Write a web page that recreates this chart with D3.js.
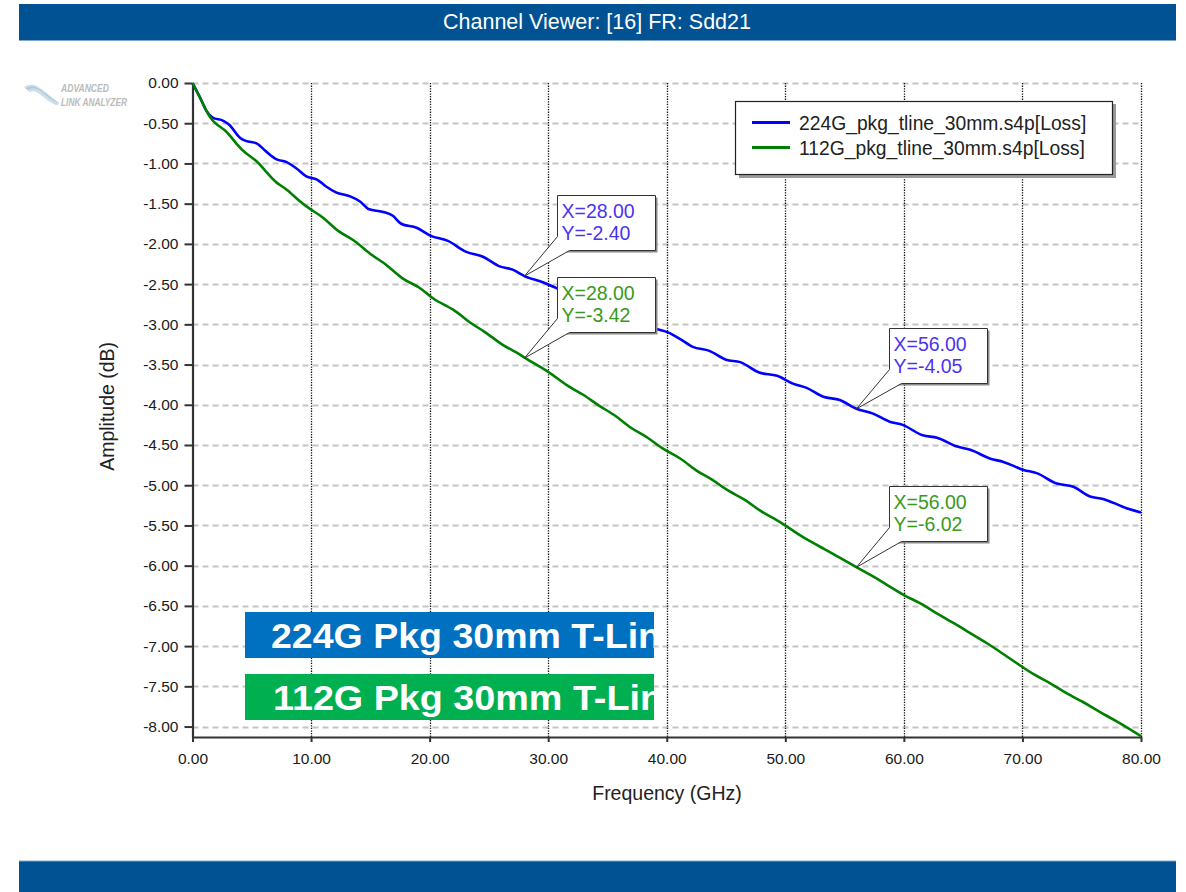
<!DOCTYPE html>
<html>
<head>
<meta charset="utf-8">
<script src="https://cdn.jsdelivr.net/npm/d3@7"></script>
<style>
  html, body { margin: 0; padding: 0; background: #ffffff; }
  svg { display: block; font-family: "Liberation Sans", Arial, sans-serif; }
</style>
</head>
<body>
<svg id="chart" width="1186" height="892"></svg>
<script>
// ---------------- data ----------------
const titleText = "Channel Viewer: [16] FR: Sdd21";
const xLabel = "Frequency (GHz)";
const yLabel = "Amplitude (dB)";
const seriesNames = ["224G_pkg_tline_30mm.s4p[Loss]", "112G_pkg_tline_30mm.s4p[Loss]"];
const bannerTexts = ["224G Pkg 30mm T-Lin", "112G Pkg 30mm T-Lin"];

const xTicks = [0, 10, 20, 30, 40, 50, 60, 70, 80];
const yTicks = [0, -0.5, -1, -1.5, -2, -2.5, -3, -3.5, -4, -4.5, -5, -5.5, -6, -6.5, -7, -7.5, -8];

const freq224 = [0, 0.6, 1.15, 1.7, 2.6, 3.1, 4.0, 4.5, 5.4, 6.2, 7.1, 7.9, 8.75, 9.6, 10.5, 11.3, 12.1, 13.3, 14.1, 14.9,
  16.0, 16.9, 17.6, 18.9, 20.1, 21.5, 23.1, 24.5, 25.9, 27.0, 28.0, 29.6, 30.7, 31.8, 33.0, 34.2, 35.3, 36.6, 37.7, 39.0,
  40.1, 41.1, 42.2, 43.6, 45.0, 46.2, 47.8, 49.3, 50.7, 51.8, 53.2, 54.6, 56.0, 57.4, 58.8, 59.9, 61.6, 62.8, 64.5, 65.6,
  67.3, 68.4, 70.1, 71.2, 72.9, 74.3, 75.7, 76.8, 78.5, 80.0];
const loss224 = [0, -0.17, -0.34, -0.43, -0.47, -0.52, -0.68, -0.72, -0.75, -0.85, -0.95, -0.98, -1.06, -1.16, -1.20, -1.29, -1.36, -1.41, -1.47, -1.57,
  -1.60, -1.65, -1.75, -1.80, -1.90, -1.96, -2.10, -2.16, -2.28, -2.32, -2.40, -2.48, -2.55, -2.62, -2.67, -2.77, -2.82, -2.91, -2.95, -3.05,
  -3.10, -3.18, -3.28, -3.33, -3.44, -3.47, -3.60, -3.64, -3.74, -3.79, -3.90, -3.94, -4.05, -4.11, -4.21, -4.25, -4.38, -4.41, -4.52, -4.56,
  -4.67, -4.71, -4.81, -4.85, -4.98, -5.02, -5.14, -5.17, -5.27, -5.34];

const freq112 = [0, 0.87, 1.4, 2.0, 2.8, 3.7, 4.5, 5.4, 6.3, 7.1, 7.9, 9.0, 10.0, 11.0, 12.4, 13.5, 15.2, 16.3, 17.7, 19.2,
  20.3, 22.0, 23.4, 24.5, 26.2, 27.3, 28.0, 30.0, 31.6, 33.0, 34.3, 35.7, 37.0, 38.4, 39.7, 41.1, 42.5, 43.8, 45.2, 46.6,
  47.9, 49.3, 50.3, 51.7, 53.4, 54.7, 56.0, 57.4, 58.8, 60.1, 61.5, 62.9, 64.2, 65.6, 67.0, 68.3, 69.7, 71.0, 72.4, 73.7,
  75.1, 76.5, 77.8, 80.0];
const loss112 = [0, -0.25, -0.42, -0.52, -0.58, -0.76, -0.88, -0.96, -1.12, -1.25, -1.31, -1.47, -1.58, -1.66, -1.87, -1.93, -2.16, -2.24, -2.45, -2.53,
  -2.70, -2.80, -2.99, -3.07, -3.27, -3.34, -3.42, -3.58, -3.77, -3.87, -4.02, -4.13, -4.30, -4.40, -4.56, -4.65, -4.83, -4.92, -5.08, -5.17,
  -5.33, -5.43, -5.53, -5.67, -5.80, -5.91, -6.02, -6.13, -6.26, -6.38, -6.47, -6.61, -6.71, -6.84, -6.96, -7.09, -7.23, -7.36, -7.46, -7.59,
  -7.69, -7.82, -7.92, -8.12];

const markerFreq = [28, 56];
const marker224 = [-2.40, -4.05];
const marker112 = [-3.42, -6.02];

// ---------------- styles ----------------
const colors = ["#0000ff", "#008000"];
const markerTextColors = ["#4a34f2", "#3a9a1c"];
const bannerColors = ["#0070c0", "#00b050"];
const barColor = "#005293";

const svg = d3.select("#chart");
const fmtLocale = d3.formatLocale({decimal: ".", thousands: ",", grouping: [3], currency: ["$", ""], minus: "-"});
const f2 = fmtLocale.format(".2f");

// top / bottom bars
svg.append("rect").attr("x", 19).attr("y", 4).attr("width", 1157).attr("height", 36).attr("fill", barColor);
svg.append("line").attr("x1", 19).attr("x2", 1176).attr("y1", 40.5).attr("y2", 40.5).attr("stroke", "#7fa6c9").attr("stroke-width", 1);
svg.append("text").attr("x", 597).attr("y", 29).attr("text-anchor", "middle")
  .attr("fill", "#ffffff").attr("font-size", 21.5).text(titleText);
svg.append("rect").attr("x", 19).attr("y", 861).attr("width", 1157).attr("height", 31).attr("fill", barColor);
svg.append("line").attr("x1", 19).attr("x2", 1176).attr("y1", 861).attr("y2", 861).attr("stroke", "#7fa6c9").attr("stroke-width", 1);

// logo
const logo = svg.append("g").attr("opacity", 0.85);
[0, 5, 10].forEach((d, i) => {
  logo.append("path")
    .attr("d", `M${25 + i * 2},${88 + d * 0.3} C${35 + i * 2},${82 + d * 0.3} ${42 + i * 2},${92 + d} ${58},${104}`)
    .attr("fill", "none").attr("stroke", i === 1 ? "#9fc0d8" : "#c5d8e6").attr("stroke-width", 3);
});
logo.append("text").attr("x", 61).attr("y", 92).attr("font-size", 10).attr("font-style", "italic").attr("font-weight", "bold")
  .attr("fill", "#b0b0b0").attr("textLength", 48).attr("lengthAdjust", "spacingAndGlyphs").text("ADVANCED");
logo.append("text").attr("x", 61).attr("y", 106).attr("font-size", 10).attr("font-style", "italic").attr("font-weight", "bold")
  .attr("fill", "#b0b0b0").attr("textLength", 66).attr("lengthAdjust", "spacingAndGlyphs").text("LINK ANALYZER");

// scales
const x = d3.scaleLinear().domain([0, 80]).range([192.5, 1141]);
const y = d3.scaleLinear().domain([0, -8.13]).range([83, 737]);

// horizontal gridlines (dashed gray)
svg.append("g").selectAll("line").data(yTicks).join("line")
  .attr("x1", x(0)).attr("x2", x(80))
  .attr("y1", d => Math.round(y(d)) + 0.5).attr("y2", d => Math.round(y(d)) + 0.5)
  .attr("stroke", "#c4c4c4").attr("stroke-width", 2).attr("stroke-dasharray", "6,4");

// vertical gridlines (dotted black)
svg.append("g").selectAll("line").data(xTicks.filter(d => d > 0)).join("line")
  .attr("x1", d => Math.round(x(d)) + 0.5).attr("x2", d => Math.round(x(d)) + 0.5)
  .attr("y1", y(0)).attr("y2", y(-8.13))
  .attr("stroke", "#111").attr("stroke-width", 1.3).attr("stroke-dasharray", "1.3,1.3");

// axes
const yAxis = d3.axisLeft(y).tickValues(yTicks).tickFormat(f2).tickSize(8).tickSizeOuter(0).tickPadding(6);
const xAxis = d3.axisBottom(x).tickValues(xTicks).tickFormat(f2).tickSize(5).tickSizeOuter(0).tickPadding(11);

const gy = svg.append("g").attr("transform", `translate(${x(0)},0)`).call(yAxis);
const gx = svg.append("g").attr("transform", `translate(0,${y(-8.13)})`).call(xAxis);
[gx, gy].forEach(g => {
  g.select(".domain").attr("stroke", "#333").attr("stroke-width", 2.2);
  g.selectAll(".tick line").attr("stroke", "#333").attr("stroke-width", 2);
  g.selectAll(".tick text").attr("fill", "#1a1a1a").attr("font-size", 15.5)
    .attr("font-family", "'Liberation Sans', Arial, sans-serif");
});

// axis titles
svg.append("text").attr("x", 667).attr("y", 800).attr("text-anchor", "middle")
  .attr("font-size", 19.5).attr("fill", "#222").text(xLabel);
svg.append("text").attr("transform", `translate(114,${y(-4.02)}) rotate(-90)`).attr("text-anchor", "middle")
  .attr("font-size", 19.5).attr("fill", "#222").text(yLabel);

// curves
const curves = [d3.curveMonotoneX, d3.curveBasis];
const series = [d3.zip(freq224, loss224), d3.zip(freq112, loss112)];
svg.append("g").selectAll("path").data(series).join("path")
  .attr("d", (d, i) => d3.line().x(p => x(p[0])).y(p => y(p[1])).curve(curves[i])(d))
  .attr("fill", "none")
  .attr("stroke", (d, i) => colors[i]).attr("stroke-width", 2.6).attr("stroke-linejoin", "round");

// banners
const defs = svg.append("defs");
defs.append("clipPath").attr("id", "bannerClip")
  .append("rect").attr("x", 245).attr("y", 600).attr("width", 409).attr("height", 130);
const bannerY = [612, 674];
bannerTexts.forEach((t, i) => {
  svg.append("rect").attr("x", 245).attr("y", bannerY[i]).attr("width", 409).attr("height", 46)
    .attr("fill", bannerColors[i]);
  svg.append("text").attr("x", i === 0 ? 271 : 273).attr("y", bannerY[i] + 36)
    .attr("clip-path", "url(#bannerClip)")
    .attr("font-size", 35).attr("font-weight", "bold").attr("fill", "#ffffff")
    .attr("textLength", 390).attr("lengthAdjust", "spacingAndGlyphs").text(t);
});

// legend
const lg = svg.append("g");
lg.append("rect").attr("x", 739).attr("y", 104).attr("width", 377).attr("height", 74).attr("fill", "#9a9a9a");
lg.append("rect").attr("x", 735.5).attr("y", 101.5).attr("width", 377).attr("height", 73)
  .attr("fill", "#ffffff").attr("stroke", "#222").attr("stroke-width", 1.2);
seriesNames.forEach((n, i) => {
  const ly = 122.5 + i * 25;
  lg.append("line").attr("x1", 752).attr("x2", 790).attr("y1", ly).attr("y2", ly)
    .attr("stroke", colors[i]).attr("stroke-width", 3);
  lg.append("text").attr("x", 799).attr("y", ly + 7).attr("font-size", 19.3).attr("fill", "#222").text(n);
});

// marker callouts
const markers = [];
markerFreq.forEach((f, j) => {
  markers.push({f: f, v: marker224[j], s: 0});
  markers.push({f: f, v: marker112[j], s: 1});
});
markers.forEach(m => {
  const px = x(m.f), py = y(m.v);
  const left = Math.round(px) + 33.5, top = Math.round(py) - 80.5, w = 98, h = 55;
  const g = svg.append("g");
  g.append("rect").attr("x", left + 2).attr("y", top + 2).attr("width", w).attr("height", h).attr("fill", "#8a8a8a");
  g.append("path")
    .attr("d", `M${left},${top} H${left + w} V${top + h} H${left + 12} L${px},${py} L${left},${top + h - 14} Z`)
    .attr("fill", "#ffffff").attr("stroke", "#333").attr("stroke-width", 1);
  g.append("text").attr("x", left + 4).attr("y", top + 22).attr("font-size", 19.5)
    .attr("fill", markerTextColors[m.s]).text("X=" + f2(m.f));
  g.append("text").attr("x", left + 4).attr("y", top + 44).attr("font-size", 19.5)
    .attr("fill", markerTextColors[m.s]).text("Y=" + f2(m.v));
});
</script>
</body>
</html>
